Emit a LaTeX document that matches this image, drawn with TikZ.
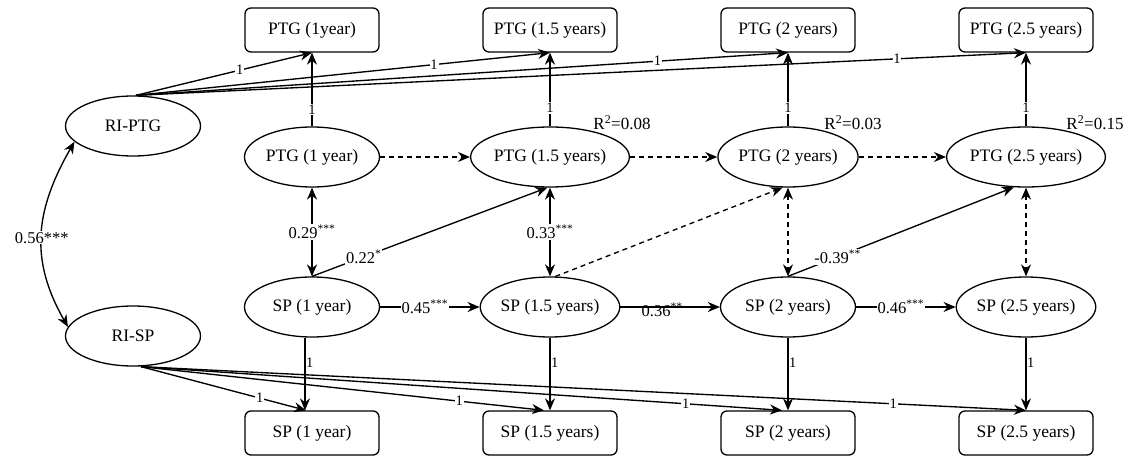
\documentclass[tikz,border=0pt]{standalone}
\usepackage{fontspec}
\setmainfont{Liberation Serif}
\usetikzlibrary{shapes.geometric,arrows.meta}
\begin{document}
\begin{tikzpicture}[x=1pt,y=-1pt,
  lat/.style={ellipse,draw,line width=1.3pt,minimum width=135pt,minimum height=60pt,inner sep=0pt,font=\fontsize{17.5}{20}\selectfont},
  obs/.style={rectangle,rounded corners=6pt,draw,line width=1.3pt,minimum width=134pt,minimum height=44pt,inner sep=0pt,font=\fontsize{17.5}{20}\selectfont},
  arr/.style={line width=1.35pt,-{Stealth[length=12pt,width=10pt]}},
  dbl/.style={line width=1.35pt,{Stealth[length=12pt,width=10pt]}-{Stealth[length=12pt,width=10pt]}},
  dsh/.style={dash pattern=on 5pt off 4pt},
  one/.style={font=\fontsize{14.5}{15}\selectfont,fill=white,inner sep=0.8pt},
  onenf/.style={font=\fontsize{14.5}{15}\selectfont,inner sep=1pt},
  coef/.style={font=\fontsize{16.5}{17}\selectfont,fill=white,inner sep=1pt},
  coefnf/.style={font=\fontsize{16.5}{17}\selectfont,inner sep=1pt},
  rsq/.style={font=\fontsize{17}{18}\selectfont,inner sep=0pt}
]
\useasboundingbox (0,0) rectangle (1127,457);

% observed boxes
\node[obs] (T1) at (312,30) {PTG (1year)};
\node[obs] (T2) at (550,30) {PTG (1.5 years)};
\node[obs] (T3) at (788,30) {PTG (2 years)};
\node[obs] (T4) at (1026,30) {PTG (2.5 years)};
\node[obs] (B1) at (312,433) {SP (1 year)};
\node[obs] (B2) at (550,433) {SP (1.5 years)};
\node[obs] (B3) at (788,433) {SP (2 years)};
\node[obs] (B4) at (1026,433) {SP (2.5 years)};

% latent
\node[lat] (RP) at (133,126) {RI-PTG};
\node[lat] (RS) at (133,336) {RI-SP};
\node[lat] (P1) at (312,157) {PTG (1 year)};
\node[lat] (P2) at (550,157) {PTG (1.5 years)};
\node[lat] (P3) at (788,157) {PTG (2 years)};
\node[lat] (P4) at (1026,157) {PTG (2.5 years)};
\node[lat] (S1) at (312,307) {SP (1 year)};
\node[lat] (S2) at (550,307) {SP (1.5 years)};
\node[lat] (S3) at (788,307) {SP (2 years)};
\node[lat] (S4) at (1026,307) {SP (2.5 years)};

% R2
\node[rsq] (R2) at (622,123) {R\textsuperscript{2}=0.08};
\node[rsq] (R3) at (853,123) {R\textsuperscript{2}=0.03};
\node[rsq] (R4) at (1095,123) {R\textsuperscript{2}=0.15};

% random intercept loadings
\draw[arr] ([xshift=3pt]RP.north) -- node[one,pos=0.59]{1} (T1.south);
\draw[arr] ([xshift=3pt]RP.north) -- node[one,pos=0.72]{1} (T2.south);
\draw[arr] ([xshift=3pt]RP.north) -- node[one,pos=0.80]{1} (T3.south);
\draw[arr] ([xshift=3pt]RP.north) -- node[one,pos=0.855]{1} (T4.south);
\draw[arr] ([xshift=8pt]RS.south) -- node[one,pos=0.72]{1} ([xshift=-6pt]B1.north);
\draw[arr] ([xshift=8pt]RS.south) -- node[one,pos=0.79]{1} ([xshift=-6pt]B2.north);
\draw[arr] ([xshift=8pt]RS.south) -- node[one,pos=0.85]{1} ([xshift=-6pt]B3.north);
\draw[arr] ([xshift=8pt]RS.south) -- node[one,pos=0.85]{1} (B4.north);

% within loadings
\draw[arr] (P1.north) -- node[one,pos=0.23]{1} (T1.south);
\draw[arr] (P2.north) -- node[one,pos=0.25]{1} (T2.south);
\draw[arr] (P3.north) -- node[one,pos=0.25]{1} (T3.south);
\draw[arr] (P4.north) -- node[one,pos=0.25]{1} (T4.south);
\draw[arr] ([xshift=-7pt]S1.south) -- node[onenf,pos=0.34,right,inner sep=0.5pt]{1} ([xshift=-7pt]B1.north);
\draw[arr] (S2.south) -- node[onenf,pos=0.34,right,inner sep=0.5pt]{1} (B2.north);
\draw[arr] (S3.south) -- node[onenf,pos=0.34,right,inner sep=0.5pt]{1} (B3.north);
\draw[arr] (S4.south) -- node[onenf,pos=0.34,right,inner sep=0.5pt]{1} (B4.north);

% RI covariance
\draw[dbl] (RP.195) .. controls +(-39,68) and +(-39,-68) .. node[coef,pos=0.52]{0.56***} (RS.172);

% autoregressive PTG (dashed)
\draw[arr,dsh] (P1.east) -- (P2.west);
\draw[arr,dsh] (P2.east) -- (P3.west);
\draw[arr,dsh] (P3.east) -- (P4.west);

% autoregressive SP
\draw[arr] (S1.east) -- node[coef,pos=0.45]{0.45\textsuperscript{***}} (S2.west);
\draw[arr] (S2.east) -- node[coefnf,pos=0.42,yshift=-3pt]{0.36\textsuperscript{**}} (S3.west);
\draw[arr] (S3.east) -- node[coef,pos=0.45]{0.46\textsuperscript{***}} (S4.west);

% within-time covariances
\draw[dbl] (P1.south) -- node[coef]{0.29\textsuperscript{***}} (S1.north);
\draw[dbl] (P2.south) -- node[coef]{0.33\textsuperscript{***}} (S2.north);
\draw[dbl,dsh] (P3.south) -- (S3.north);
\draw[dbl,dsh] (P4.south) -- (S4.north);

% cross-lagged
\draw[arr] (S1.north) -- node[coef,pos=0.22]{0.22\textsuperscript{*}} (P2.-95);
\draw[arr,dsh] (S2.80) -- (P3.-100);
\draw[arr] (S3.north) -- node[coef,pos=0.22]{-0.39\textsuperscript{**}} (P4.-112);
\end{tikzpicture}
\end{document}
